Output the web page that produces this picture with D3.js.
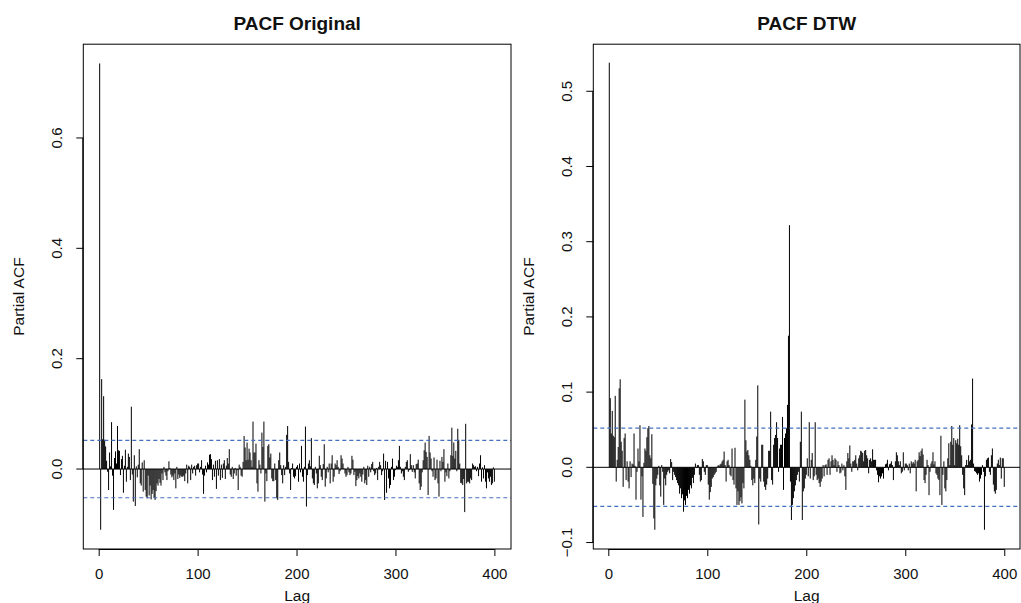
<!DOCTYPE html>
<html>
<head>
<meta charset="utf-8">
<script src="https://cdnjs.cloudflare.com/ajax/libs/d3/7.8.5/d3.min.js"></script>
<style>
  body { margin: 0; background: #fff; }
  text { font-family: "Liberation Sans", Arial, sans-serif; fill: #111; }
</style>
</head>
<body>
<div id="viz-container"></div>
<script>
// partial autocorrelations, lags 1..400
let pacfOriginal = [
  0.735, -0.110, 0.163, 0.054, 0.132, 0.053, 0.041, 0.015, -0.005, -0.038,
  0.030, 0.005, 0.085, -0.012, -0.074, 0.020, 0.032, 0.010, 0.078, 0.034,
  0.033, -0.011, 0.018, 0.024, -0.043, 0.006, 0.035, -0.023, 0.004, 0.028,
  0.022, -0.020, 0.113, -0.010, -0.059, 0.025, -0.067, 0.005, -0.015, 0.008,
  0.036, -0.026, -0.030, 0.012, -0.041, 0.016, -0.038, -0.050, -0.053, -0.012,
  -0.048, -0.030, -0.055, -0.045, -0.038, -0.052, -0.056, -0.040, -0.026, -0.030,
  -0.018, -0.025, -0.030, -0.008, -0.020, 0.004, -0.006, -0.012, -0.020, -0.004,
  0.014, 0.002, -0.010, -0.015, -0.012, -0.020, -0.008, -0.035, 0.004, -0.018,
  -0.010, -0.016, -0.012, -0.014, -0.014, -0.012, -0.022, -0.008, 0.008, -0.026,
  0.006, 0.004, -0.020, 0.008, -0.008, 0.004, 0.006, -0.012, 0.007, 0.010,
  0.010, -0.006, 0.004, 0.016, -0.010, -0.045, -0.012, 0.006, -0.006, 0.012,
  0.008, 0.026, 0.027, 0.018, -0.020, 0.008, -0.014, 0.015, -0.036, 0.016,
  -0.012, 0.018, -0.020, 0.008, -0.016, 0.010, 0.016, -0.018, 0.006, 0.020,
  0.010, 0.036, -0.010, -0.014, 0.004, -0.018, -0.008, 0.002, -0.012, -0.002,
  -0.038, 0.008, 0.004, -0.012, -0.014, 0.013, 0.060, 0.039, 0.016, 0.048,
  0.017, 0.037, 0.030, 0.016, 0.004, 0.086, 0.030, 0.030, 0.046, -0.026,
  -0.041, 0.016, 0.008, -0.008, 0.066, 0.040, 0.086, -0.059, -0.008, -0.022,
  0.042, 0.045, 0.021, 0.028, -0.017, -0.022, -0.022, 0.010, -0.020, -0.053,
  -0.056, 0.016, 0.030, 0.007, -0.011, -0.026, 0.007, -0.011, 0.004, 0.062,
  0.078, 0.013, -0.008, -0.038, 0.002, 0.010, -0.014, -0.017, -0.013, 0.004,
  0.007, -0.023, 0.010, -0.006, 0.042, -0.014, -0.023, 0.004, 0.077, -0.068,
  -0.011, 0.010, 0.016, 0.005, 0.056, -0.017, -0.026, -0.029, 0.004, -0.008,
  -0.035, -0.026, 0.024, 0.007, -0.014, -0.020, 0.009, 0.045, -0.032, -0.017,
  0.004, -0.006, 0.010, -0.026, 0.010, 0.025, -0.023, -0.014, 0.010, 0.007,
  0.016, 0.004, -0.009, -0.004, 0.025, 0.019, 0.010, 0.001, -0.008, -0.014,
  -0.011, 0.004, -0.006, -0.011, -0.008, 0.024, 0.017, -0.011, -0.005, -0.031,
  -0.020, -0.013, -0.017, -0.008, -0.014, -0.023, -0.010, 0.004, -0.026, -0.020,
  -0.029, 0.006, -0.014, 0.004, -0.006, 0.009, 0.013, -0.004, -0.011, -0.008,
  0.002, -0.020, 0.004, 0.013, 0.007, -0.011, -0.004, 0.028, -0.056, 0.015,
  -0.043, 0.013, -0.017, -0.035, -0.029, 0.004, 0.019, -0.020, -0.014, -0.002,
  0.006, 0.004, 0.016, 0.042, 0.004, -0.008, -0.004, -0.014, -0.020, 0.004,
  0.013, 0.016, -0.005, -0.002, 0.027, 0.007, -0.005, 0.007, -0.006, -0.017,
  0.009, 0.010, 0.017, -0.026, -0.038, -0.032, -0.006, 0.016, 0.034, 0.048,
  0.031, 0.022, -0.047, 0.060, 0.030, 0.019, -0.004, -0.014, 0.021, -0.020,
  -0.017, 0.017, -0.026, -0.050, 0.015, -0.004, 0.022, 0.013, 0.036, -0.023,
  -0.006, -0.013, 0.010, -0.017, -0.004, 0.025, 0.075, 0.024, 0.048, 0.019,
  0.033, -0.004, 0.073, 0.053, 0.010, -0.025, -0.026, -0.029, -0.018, -0.078,
  0.082, -0.026, -0.023, -0.023, -0.026, -0.017, -0.020, 0.010, 0.007, 0.004,
  0.005, -0.004, 0.004, -0.013, 0.010, 0.025, -0.023, 0.003, -0.017, 0.007,
  -0.023, -0.035, -0.006, -0.017, -0.023, -0.014, -0.029, -0.026, 0.003, -0.023
];

let pacfDtw = [
  0.538, 0.092, 0.045, 0.075, 0.042, 0.040, 0.095, -0.019, 0.010, 0.027,
  0.105, 0.117, 0.034, 0.022, -0.026, 0.039, 0.045, -0.017, 0.008, -0.019,
  -0.028, 0.008, -0.013, 0.005, 0.004, 0.045, 0.002, -0.043, -0.006, 0.025,
  0.008, 0.056, -0.043, -0.012, -0.066, 0.006, 0.025, 0.022, 0.040, 0.052,
  0.055, 0.016, 0.012, 0.044, -0.022, -0.068, -0.083, -0.024, -0.015, -0.010,
  0.002, -0.024, -0.039, 0.003, -0.006, -0.050, -0.015, -0.024, -0.010, -0.006,
  -0.004, -0.008, 0.011, 0.007, -0.017, -0.006, -0.010, -0.013, -0.017, -0.021,
  -0.024, -0.035, -0.028, -0.041, -0.036, -0.059, -0.044, -0.050, -0.038, -0.041,
  -0.030, -0.035, -0.024, -0.028, -0.014, -0.021, -0.010, 0.005, -0.001, 0.003,
  0.003, -0.010, -0.019, -0.017, 0.011, 0.008, -0.006, -0.010, 0.003, 0.003,
  -0.023, -0.043, -0.033, -0.026, -0.015, -0.013, -0.010, -0.008, -0.006, 0.001,
  0.003, 0.002, 0.004, 0.005, 0.008, 0.010, 0.021, 0.003, -0.019, 0.008,
  0.010, 0.003, -0.010, -0.012, 0.025, -0.017, -0.023, 0.026, -0.028, -0.050,
  -0.032, -0.050, -0.045, -0.040, -0.048, -0.021, -0.028, 0.090, 0.036, 0.021,
  0.023, 0.016, 0.010, 0.002, -0.017, -0.024, -0.015, -0.021, 0.010, 0.041,
  0.109, -0.076, -0.015, -0.019, 0.030, 0.030, -0.019, -0.026, -0.030, -0.023,
  -0.015, 0.022, 0.022, 0.074, -0.017, -0.023, 0.030, 0.039, 0.043, 0.060,
  0.039, -0.006, 0.025, 0.030, 0.030, 0.067, -0.030, 0.039, 0.045, 0.052,
  0.083, 0.175, 0.322, -0.019, -0.070, -0.050, -0.041, -0.032, -0.024, -0.017,
  -0.010, -0.006, -0.019, 0.034, 0.074, -0.070, -0.032, -0.028, -0.015, -0.010,
  0.012, -0.012, 0.060, -0.015, 0.010, 0.019, -0.017, -0.012, 0.060, -0.010,
  -0.017, -0.015, -0.021, -0.026, -0.019, -0.015, 0.003, -0.012, 0.003, 0.004,
  -0.010, 0.010, 0.012, -0.010, 0.008, 0.016, 0.010, 0.003, 0.012, 0.010,
  -0.006, 0.008, 0.003, -0.008, -0.007, 0.005, -0.004, 0.003, -0.012, -0.030,
  0.008, 0.019, 0.012, 0.029, 0.005, -0.006, 0.008, 0.008, 0.010, 0.016,
  0.005, -0.004, 0.012, 0.016, 0.022, 0.021, 0.019, 0.008, 0.022, 0.023,
  0.016, 0.012, -0.008, 0.010, 0.012, 0.008, 0.024, 0.010, 0.010, 0.010,
  -0.004, -0.010, -0.020, -0.012, -0.015, -0.012, -0.008, -0.015, -0.001, 0.004,
  0.005, 0.010, -0.004, 0.004, 0.005, 0.008, 0.003, -0.017, -0.001, 0.008,
  0.020, 0.016, 0.008, 0.003, 0.008, -0.008, -0.006, 0.020, -0.004, 0.005,
  0.005, 0.003, -0.004, 0.005, -0.008, 0.008, 0.005, 0.007, 0.005, 0.010,
  -0.032, 0.008, 0.010, 0.020, 0.015, 0.022, 0.025, 0.017, -0.017, -0.021,
  -0.010, 0.010, 0.003, -0.037, -0.006, 0.005, 0.008, 0.020, 0.004, 0.008,
  -0.008, -0.010, -0.015, -0.017, -0.037, 0.042, -0.050, -0.010, 0.008, -0.028,
  -0.032, -0.017, 0.012, 0.032, 0.003, 0.034, 0.055, 0.030, 0.039, 0.003,
  0.036, 0.032, 0.038, 0.030, 0.056, 0.028, 0.016, -0.010, -0.028, -0.037,
  0.003, 0.010, 0.003, 0.016, 0.008, 0.010, 0.057, 0.118, 0.005, -0.005,
  -0.006, -0.008, -0.010, -0.008, -0.019, -0.015, -0.010, 0.003, -0.006, -0.083,
  -0.012, 0.010, 0.012, 0.013, -0.006, -0.010, 0.016, 0.025, -0.023, -0.032,
  -0.035, -0.030, 0.005, 0.010, 0.003, 0.013, -0.015, 0.012, 0.012, -0.026
];

let lags = d3.range(1, 401);
let xTicks = [0, 100, 200, 300, 400];
let yTicksOriginal = [0, 0.2, 0.4, 0.6];
let yTicksDtw = [-0.1, 0, 0.1, 0.2, 0.3, 0.4, 0.5];
let ciBound = 0.052;   // 1.96 / sqrt(n)

let viz = d3.select("#viz-container")
              .append("svg")
                .attr("width", 1021)
                .attr("height", 603)
;

function drawPanel(values, yTicks, title, box, xDomain, yDomain) {
  let x = d3.scaleLinear().domain(xDomain).range([box.left, box.right]);
  let y = d3.scaleLinear().domain(yDomain).range([box.bottom, box.top]);
  let g = viz.append("g");

  // bars (type = "h")
  g.selectAll(".bar")
    .data(lags)
    .enter()
    .append("line")
      .attr("class", "bar")
      .attr("x1", function(d) { return x(d); })
      .attr("x2", function(d) { return x(d); })
      .attr("y1", y(0))
      .attr("y2", function(d, i) { return y(values[i]); })
      .attr("stroke", "#000")
      .attr("stroke-width", 1);

  // zero line and confidence bounds
  g.append("line")
    .attr("x1", box.left).attr("x2", box.right)
    .attr("y1", y(0)).attr("y2", y(0))
    .attr("stroke", "#000");

  [ciBound, -ciBound].forEach(function(c) {
    g.append("line")
      .attr("x1", box.left).attr("x2", box.right)
      .attr("y1", y(c)).attr("y2", y(c))
      .attr("stroke", "#4470c0")
      .attr("stroke-width", 1.2)
      .attr("stroke-dasharray", "4,3");
  });

  // box
  g.append("rect")
    .attr("x", box.left).attr("y", box.top)
    .attr("width", box.right - box.left)
    .attr("height", box.bottom - box.top)
    .attr("fill", "none")
    .attr("stroke", "#000");

  // x axis
  let xAxis = d3.axisBottom(x).tickValues(xTicks).tickSize(7).tickPadding(12).tickSizeOuter(0);
  let xg = g.append("g").attr("transform", "translate(0," + box.bottom + ")").call(xAxis);
  xg.select(".domain").attr("d", "M" + x(xTicks[0]) + ",0.5H" + x(xTicks[xTicks.length - 1]));
  xg.selectAll("text").attr("font-size", 15).attr("font-family", "Liberation Sans, Arial, sans-serif").attr("fill", "#111");

  // y axis, labels rotated like R's las = 0
  let yAxis = d3.axisLeft(y).tickValues(yTicks).tickSize(7).tickSizeOuter(0).tickFormat(d3.format(".1f"));
  let yg = g.append("g").attr("transform", "translate(" + box.left + ",0)").call(yAxis);
  yg.select(".domain").attr("d", "M-0.5," + y(yTicks[0]) + "V" + y(yTicks[yTicks.length - 1]));
  yg.selectAll("text")
    .attr("x", null).attr("dy", null)
    .attr("text-anchor", "middle")
    .attr("transform", function(d) { return "translate(-21," + y(d) + ") rotate(-90)"; })
    .attr("y", 0)
    .attr("font-size", 15)
    .attr("font-family", "Liberation Sans, Arial, sans-serif")
    .attr("fill", "#111");
  yg.selectAll(".tick").attr("transform", null);
  yg.selectAll(".tick line").attr("y1", function(d) { return y(d); }).attr("y2", function(d) { return y(d); });

  // titles
  let cx = (box.left + box.right) / 2;
  g.append("text")
    .attr("x", cx).attr("y", 30)
    .attr("text-anchor", "middle")
    .attr("font-weight", "bold")
    .attr("font-size", 19)
    .text(title);

  g.append("text")
    .attr("x", cx).attr("y", 601)
    .attr("text-anchor", "middle")
    .attr("font-size", 15.5)
    .text("Lag");

  g.append("text")
    .attr("transform", "translate(" + (box.left - 59) + "," + ((box.top + box.bottom) / 2) + ") rotate(-90)")
    .attr("text-anchor", "middle")
    .attr("font-size", 15.5)
    .text("Partial ACF");
}

drawPanel(pacfOriginal, yTicksOriginal, "PACF Original",
          {left: 83.3, right: 511, top: 44.2, bottom: 549},
          [-15.56, 416.8], [-0.1449, 0.7699]);

drawPanel(pacfDtw, yTicksDtw, "PACF DTW",
          {left: 593.3, right: 1020, top: 44.2, bottom: 549},
          [-15.15, 415.9], [-0.1086, 0.5626]);
</script>
</body>
</html>
